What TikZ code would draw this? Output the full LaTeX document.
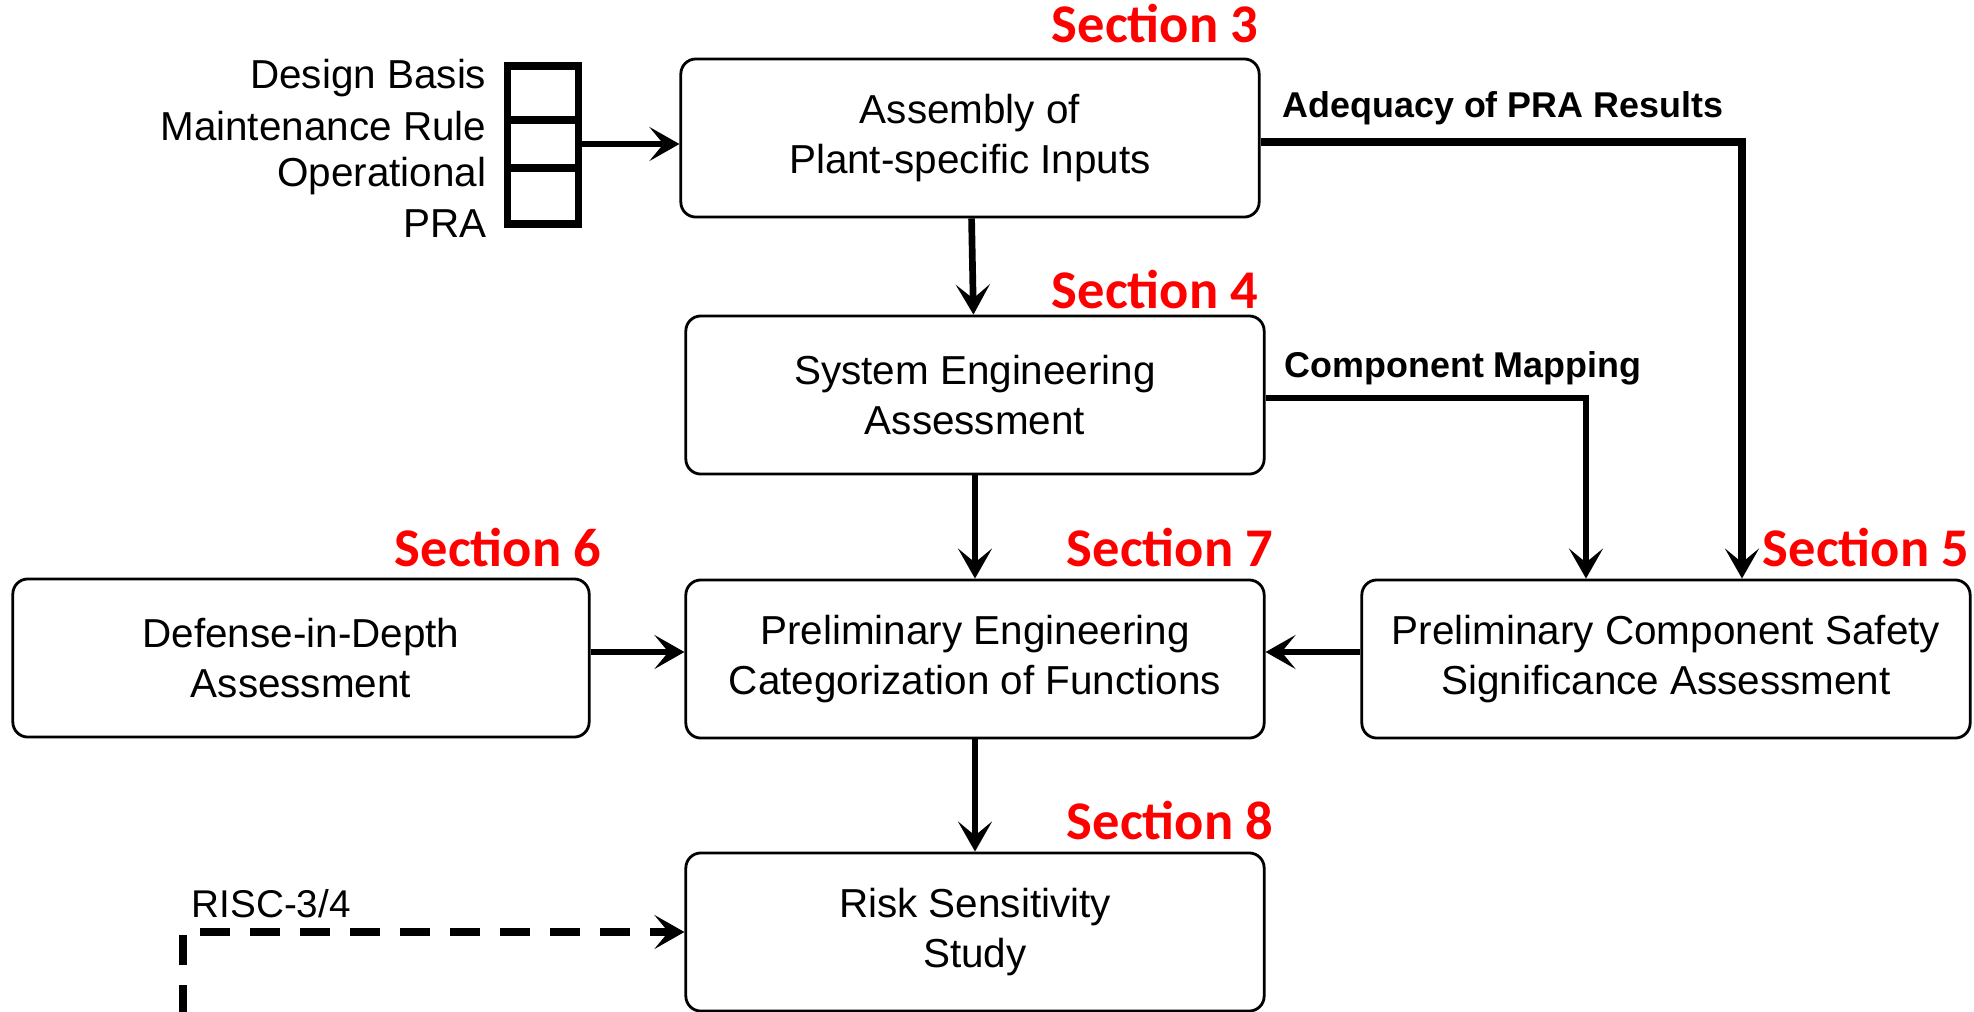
\documentclass[tikz,border=0pt]{standalone}
\usepackage{fontspec}
\setmainfont{Liberation Sans}
\newfontfamily\secfont{Carlito}
\usetikzlibrary{arrows.meta,positioning}

\begin{document}
\begin{tikzpicture}[x=0.01cm, y=-0.01cm,
      every node/.style = {inner sep=0pt},
      stage/.style = {shape=rectangle, rounded corners=0.15cm,
        draw, line width=0.8pt, align=center,
        minimum width=5.78cm, minimum height=1.58cm,
        font=\fontsize{11.5}{14}\selectfont,
        execute at begin node={\rule{0pt}{12.6pt}}},
      src/.style = {shape=rectangle, draw, line width=2.2pt,
        minimum width=0.71cm},
      srclabel/.style = {anchor=east, font=\fontsize{11.5}{13.6}\selectfont},
      section/.style = {text=red, font=\secfont\bfseries\fontsize{15.5}{17}\selectfont},
      note/.style = {anchor=west, font=\bfseries\fontsize{10.2}{12}\selectfont},
      flow/.style = {line width=1.9pt, -{Stealth[length=0.3cm, width=0.34cm, inset=0.14cm]}}]
  \useasboundingbox (0,0) rectangle (1974,1011);
  % boxes
  \node[stage] (assembly) at (970,138) {Assembly of\\Plant-specific Inputs};
  \node[stage] (syseng) at (975,395) {System Engineering\\Assessment};
  \node[stage] (prelimeng) at (975,659) {Preliminary Engineering\\Categorization of Functions};
  \node[stage, minimum width=5.76cm] (defense) at (301,658) {Defense-in-Depth\\Assessment};
  \node[stage, minimum width=6.08cm] (compsafety) at (1666,659) {Preliminary Component Safety\\Significance Assessment};
  \node[stage] (risk) at (975,932) {Risk Sensitivity\\Study};
  % inputs
  \node[src, minimum height=0.54cm] (src1) at (543,93) {};
  \node[src, minimum height=0.48cm] (src2) at (543,144) {};
  \node[src, minimum height=0.56cm] (src3) at (543,196) {};
  \node[srclabel] (basis) at (487,78) {Design Basis};
  \node[srclabel] (mrule) at (487,126) {Maintenance Rule};
  \node[srclabel] (oper) at (487,176) {Operational};
  \node[srclabel] (pra) at (487,224) {PRA};
  % sections
  \node[section, anchor=east] (sec3) at (1259,24) {Section 3};
  \node[section, anchor=east] (sec4) at (1259,290) {Section 4};
  \node[section, anchor=east] (sec6) at (602,548) {Section 6};
  \node[section, anchor=east] (sec7) at (1274,548) {Section 7};
  \node[section, anchor=east] (sec5) at (1970,548) {Section 5};
  \node[section, anchor=east] (sec8) at (1274,821) {Section 8};
  % connectors
  \draw[flow] (src2.east) -- (src2.east -| assembly.west);
  \draw[flow] (assembly) -- (syseng);
  \draw[flow] (syseng) -- (prelimeng);
  \draw[flow] (prelimeng) -- (risk);
  \draw[flow] (defense.east |- 0,652) -- (prelimeng.west |- 0,652);
  \draw[flow] (compsafety.west |- 0,652) -- (prelimeng.east |- 0,652);
  \coordinate (praturn) at (1742,142);
  \coordinate (mapturn) at (1586,398);
  \draw[flow, line width=2.4pt] (assembly.east |- praturn) -- (praturn) -- (praturn |- compsafety.north);
  \draw[flow, line width=1.8pt] (syseng.east |- mapturn) -- (mapturn) -- (mapturn |- compsafety.north);
  \node[note] (adequacy) at (1282,108) {Adequacy of PRA Results};
  \node[note] (mapping) at (1284,368) {Component Mapping};
  % risc-3/4 feed
  \coordinate (riscfoot) at (183,1015);
  \draw[flow, dash pattern=on 0.3cm off 0.2cm, line width=2pt]
    (riscfoot) -- (riscfoot |- risk.west) -- (risk.west);
  \node[anchor=west, font=\fontsize{11}{13}\selectfont] (risc) at (191,904) {RISC-3/4};
\end{tikzpicture}
\end{document}
